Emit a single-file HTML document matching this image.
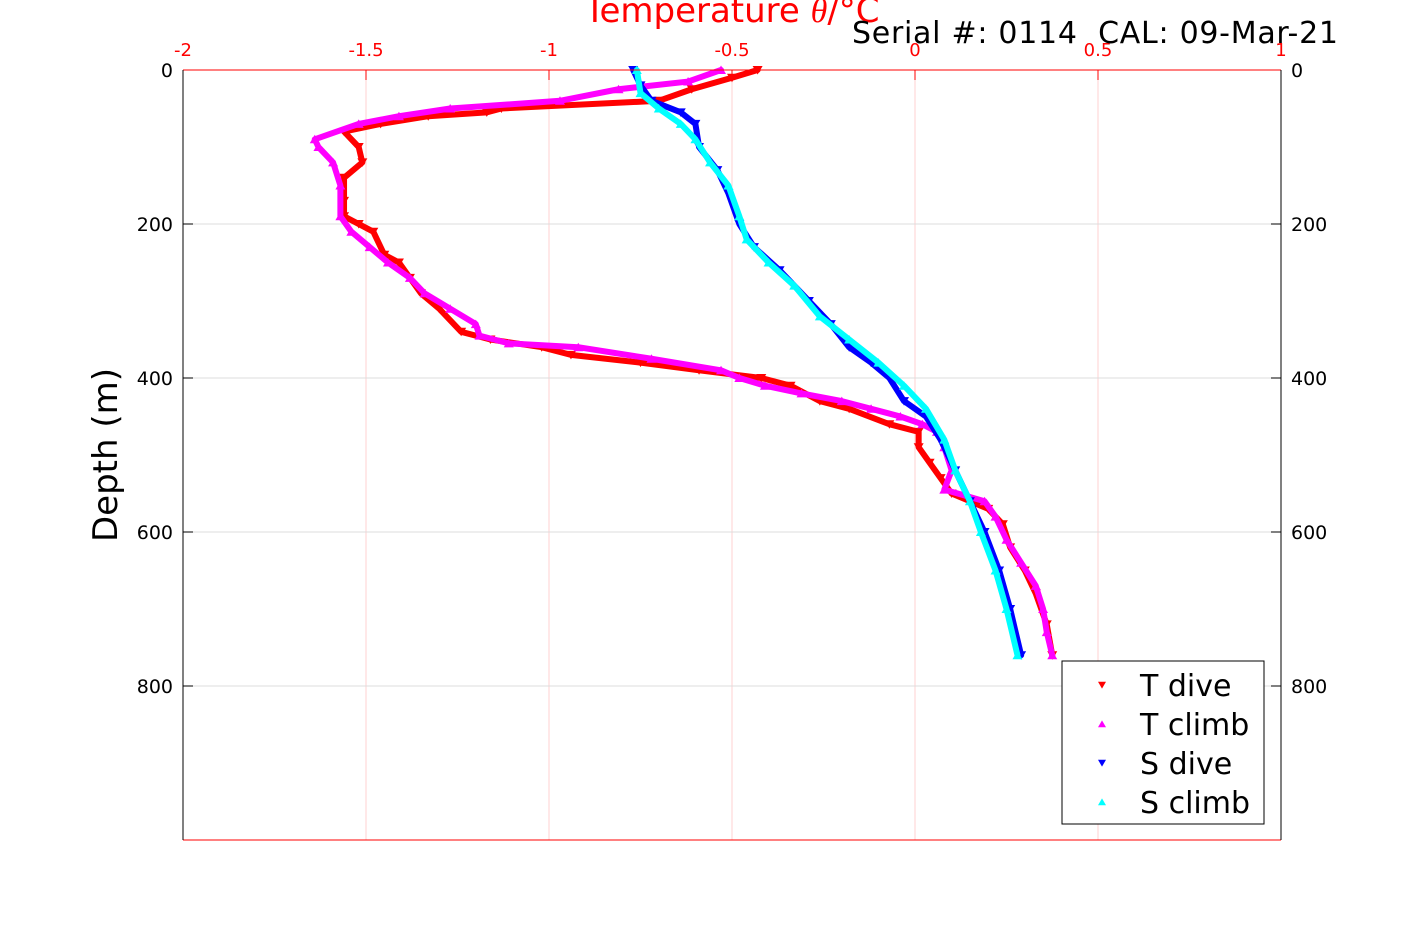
<!DOCTYPE html>
<html><head><meta charset="utf-8"><style>
body{margin:0;background:#fff;}
svg text{font-family:"DejaVu Sans","Liberation Sans",sans-serif;}
</style></head><body>
<svg id="chart" width="1417" height="945" viewBox="0 0 1417 945" xmlns="http://www.w3.org/2000/svg">
<rect width="1417" height="945" fill="#fff"/>
<g id="grid"></g>
<g id="series"></g>
<g id="axes"></g>
<text x="732" y="22" font-size="34" fill="#ff0000" text-anchor="middle">Temperature <tspan font-style="italic" font-family="Liberation Serif,serif">θ</tspan>/°C</text>
<text x="852" y="43" font-size="30" textLength="486" fill="#000">Serial #: 0114&#160; CAL: 09-Mar-21</text>
<text transform="translate(117,455) rotate(-90)" font-size="34" fill="#000" text-anchor="middle">Depth (m)</text>
<g>
<rect x="1062" y="661" width="202" height="163" fill="#fff" stroke="#000" stroke-width="1"/>
<g id="legend-items"></g>
</g>
</svg>
<script>
const xTicks=[-2,-1.5,-1,-0.5,0,0.5,1];
const xTickLabels=["-2","-1.5","-1","-0.5","0","0.5","1"];
const yTicks=[0,200,400,600,800];
const yTickLabels=["0","200","400","600","800"];
const tDiveDepth=[0,10,25,40,50,55,60,70,80,100,120,140,170,190,200,210,240,250,270,290,310,340,350,360,370,380,390,400,410,430,440,460,470,490,510,530,550,570,590,620,650,680,720,760];
const tDiveTemp=[-0.43,-0.5,-0.61,-0.7,-1.13,-1.17,-1.33,-1.46,-1.56,-1.52,-1.51,-1.56,-1.56,-1.56,-1.52,-1.48,-1.45,-1.41,-1.38,-1.35,-1.3,-1.24,-1.16,-1.02,-0.94,-0.75,-0.59,-0.42,-0.34,-0.26,-0.18,-0.07,0.01,0.01,0.04,0.07,0.1,0.2,0.24,0.26,0.3,0.33,0.36,0.375];
const tClimbDepth=[0,15,25,40,50,60,70,90,100,120,150,190,210,230,250,270,290,310,330,345,355,360,375,390,400,410,420,430,440,450,460,470,490,520,545,560,580,610,640,670,700,730,760];
const tClimbTemp=[-0.53,-0.62,-0.81,-0.97,-1.27,-1.41,-1.52,-1.64,-1.63,-1.59,-1.57,-1.57,-1.54,-1.49,-1.44,-1.38,-1.34,-1.27,-1.2,-1.19,-1.11,-0.92,-0.72,-0.53,-0.48,-0.41,-0.31,-0.2,-0.12,-0.04,0.02,0.06,0.08,0.1,0.08,0.19,0.22,0.25,0.29,0.33,0.35,0.36,0.375];
const sDiveDepth=[0,20,40,55,70,100,130,160,200,230,260,300,330,360,380,400,430,450,480,520,560,600,650,700,760];
const sDiveVal=[-0.77,-0.75,-0.72,-0.64,-0.6,-0.59,-0.54,-0.51,-0.48,-0.44,-0.37,-0.29,-0.23,-0.18,-0.12,-0.07,-0.03,0.03,0.07,0.11,0.15,0.19,0.23,0.26,0.29];
const sClimbDepth=[0,30,50,70,90,120,150,190,220,250,280,320,350,380,410,440,480,520,560,600,650,700,760];
const sClimbVal=[-0.76,-0.75,-0.7,-0.64,-0.6,-0.56,-0.51,-0.48,-0.46,-0.4,-0.33,-0.26,-0.18,-0.1,-0.03,0.03,0.08,0.11,0.15,0.18,0.22,0.25,0.28];
const L=183,R=1281,T=70,B=840;
const xs=v=>L+(v+2)/3*(R-L);
const ys=d=>T+d/1000*(B-T);
const NS="http://www.w3.org/2000/svg";
function mk(tag,attrs,parent){const e=document.createElementNS(NS,tag);for(const k in attrs)e.setAttribute(k,attrs[k]);parent.appendChild(e);return e;}
const grid=document.getElementById('grid'),axes=document.getElementById('axes'),ser=document.getElementById('series');
xTicks.forEach((v,i)=>{
 const g=mk('line',{x1:xs(v),x2:xs(v),y1:T,y2:B,stroke:'#ffd0d0','stroke-width':1},grid);
 
 
 const t=mk('line',{x1:xs(v),x2:xs(v),y1:T,y2:T+10,stroke:'#ff0000','stroke-width':1},axes);
 
 
 const tx=mk('text',{x:xs(v),y:56,'font-size':18,fill:'#ff0000','text-anchor':'middle'},axes);
 tx.textContent=xTickLabels[i];
 
 
});
yTicks.forEach((v,i)=>{
 const g=mk('line',{x1:L,x2:R,y1:ys(v),y2:ys(v),stroke:'#dcdcdc','stroke-width':1},grid);
 
 
 mk('line',{x1:L,x2:L+10,y1:ys(v),y2:ys(v),stroke:'#000'},axes);
 mk('line',{x1:R-10,x2:R,y1:ys(v),y2:ys(v),stroke:'#000'},axes);
 const a=mk('text',{x:L-10,y:ys(v)+7,'font-size':19,fill:'#000','text-anchor':'end'},axes);
 a.textContent=yTickLabels[i];
 
 
 const b=mk('text',{x:R+10,y:ys(v)+7,'font-size':19,fill:'#000'},axes);
 b.textContent=yTickLabels[i];
 
 
});
mk('line',{x1:L,x2:R,y1:T,y2:T,stroke:'#ff0000'},axes);
mk('line',{x1:L,x2:R,y1:B,y2:B,stroke:'#ff0000'},axes);
mk('line',{x1:L,x2:L,y1:T,y2:B,stroke:'#000'},axes);
mk('line',{x1:R,x2:R,y1:T,y2:B,stroke:'#000'},axes);
function tri(x,y,down,s){return down?`${x-s},${y-s*0.8} ${x+s},${y-s*0.8} ${x},${y+s*0.9}`:`${x-s},${y+s*0.8} ${x+s},${y+s*0.8} ${x},${y-s*0.9}`;}
function series(name,dep,val,color,down){
 const g=mk('g',{},ser);
 
 
 const pts=dep.map((d,i)=>xs(val[i])+','+ys(d)).join(' ');
 mk('polyline',{points:pts,fill:'none',stroke:color,'stroke-width':6,'stroke-linejoin':'round','stroke-linecap':'round'},g);
 dep.forEach((d,i)=>{
  const p=mk('polygon',{points:tri(xs(val[i]),ys(d),down,5),fill:color},g);
  
  
 });
}
series('t-dive-series',tDiveDepth,tDiveTemp,'#ff0000',true);
series('t-climb-series',tClimbDepth,tClimbTemp,'#ff00ff',false);
series('s-dive-series',sDiveDepth,sDiveVal,'#0000ff',true);
series('s-climb-series',sClimbDepth,sClimbVal,'#00ffff',false);
const li=document.getElementById('legend-items');
[['T dive','#ff0000',true],['T climb','#ff00ff',false],['S dive','#0000ff',true],['S climb','#00ffff',false]].forEach((e,i)=>{
 const y=685+i*39;
 const g=mk('g',{},li);
 
 
 mk('polygon',{points:tri(1102,y,e[2],4),fill:e[1]},g);
 const t=mk('text',{x:1140,y:y+11,'font-size':30,fill:'#000'},g);
 t.textContent=e[0];
});
</script>
</body></html>
